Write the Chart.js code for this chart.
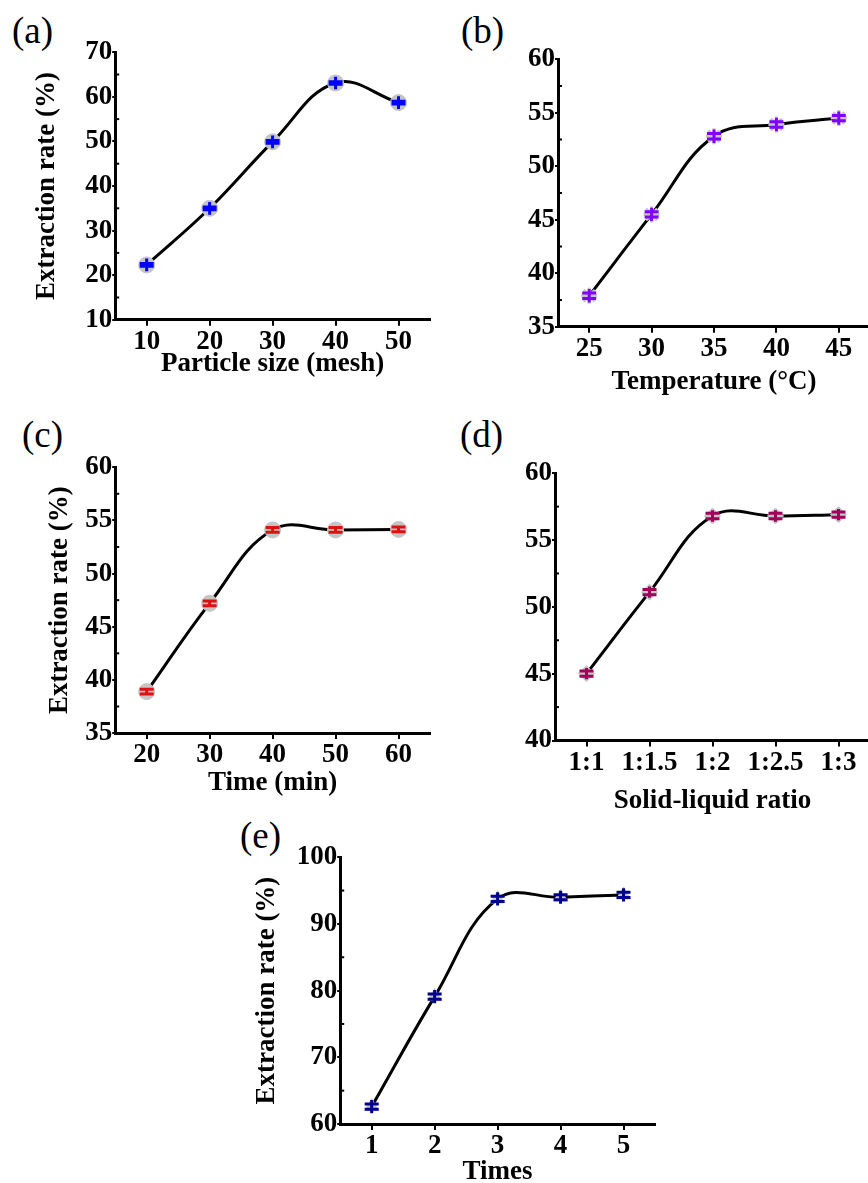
<!DOCTYPE html>
<html>
<head>
<meta charset="utf-8">
<script src="https://cdn.jsdelivr.net/npm/chart.js@4.4.1/dist/chart.umd.min.js"></script>
<style>
  html, body { margin: 0; padding: 0; background: #fff; }
  body { position: relative; width: 868px; height: 1183px; overflow: hidden; }
  canvas { position: absolute; }
  .tag { position: absolute; font: 37px 'Liberation Serif', 'Times New Roman', serif; line-height: 1; color: #000; }
</style>
</head>
<body>
<div class="tag" style="left:12px;top:12px">(a)</div>
<div class="tag" style="left:461px;top:12px">(b)</div>
<div class="tag" style="left:22px;top:416px">(c)</div>
<div class="tag" style="left:460px;top:416px">(d)</div>
<div class="tag" style="left:240px;top:817px">(e)</div>
<canvas id="chartA"></canvas>
<canvas id="chartB"></canvas>
<canvas id="chartC"></canvas>
<canvas id="chartD"></canvas>
<canvas id="chartE"></canvas>
<script>
'use strict'

// (a) particle size
const sizeLabels = ['10', '20', '30', '40', '50']
const sizeRates = [22.3, 35.0, 49.9, 63.1, 58.7]
const sizeErrors = [0.3, 0.3, 0.3, 0.3, 0.3]
const sizeTicks = [10, 20, 30, 40, 50, 60, 70]

// (b) temperature
const tempLabels = ['25', '30', '35', '40', '45']
const tempRates = [37.9, 45.5, 52.8, 53.9, 54.5]
const tempErrors = [0.25, 0.25, 0.25, 0.25, 0.25]
const tempTicks = [35, 40, 45, 50, 55, 60]

// (c) time
const timeLabels = ['20', '30', '40', '50', '60']
const timeRates = [38.9, 47.2, 54.1, 54.1, 54.15]
const timeErrors = [0.22, 0.22, 0.22, 0.22, 0.22]
const timeTicks = [35, 40, 45, 50, 55, 60]

// (d) solid-liquid ratio
const ratioLabels = ['1:1', '1:1.5', '1:2', '1:2.5', '1:3']
const ratioRates = [45.0, 51.1, 56.8, 56.8, 56.9]
const ratioErrors = [0.2, 0.2, 0.2, 0.2, 0.2]
const ratioTicks = [40, 45, 50, 55, 60]

// (e) extraction times
const timesLabels = ['1', '2', '3', '4', '5']
const timesRates = [62.6, 79.1, 93.75, 94.0, 94.35]
const timesErrors = [0.38, 0.38, 0.38, 0.38, 0.38]
const timesTicks = [60, 70, 80, 90, 100]

const serif = "'Liberation Serif', 'Times New Roman', serif"

// draws the coloured error bars over the grey symbols, plus the small inner minor ticks
const extrasPlugin = {
  id: 'extras',
  afterDatasetsDraw (chart, args, opts) {
    const ctx = chart.ctx
    const ys = chart.scales.y
    const ds = chart.data.datasets[0]
    const meta = chart.getDatasetMeta(0)
    ctx.save()
    ctx.strokeStyle = opts.color
    ctx.lineWidth = 3
    meta.data.forEach((pt, i) => {
      const v = ds.data[i]
      const up = ys.getPixelForValue(v + opts.errors[i])
      const dn = ys.getPixelForValue(v - opts.errors[i])
      ctx.beginPath()
      ctx.moveTo(pt.x, up - opts.stub)
      ctx.lineTo(pt.x, dn + opts.stub)
      ctx.moveTo(pt.x - 7, up)
      ctx.lineTo(pt.x + 7, up)
      ctx.moveTo(pt.x - 7, dn)
      ctx.lineTo(pt.x + 7, dn)
      ctx.stroke()
    })
    // minor ticks halfway between the labelled ones
    ctx.strokeStyle = '#000'
    ctx.lineWidth = 2
    const left = chart.chartArea.left
    for (let i = 0; i < opts.ticks.length - 1; i++) {
      const y = ys.getPixelForValue((opts.ticks[i] + opts.ticks[i + 1]) / 2)
      ctx.beginPath()
      ctx.moveTo(left, y)
      ctx.lineTo(left + 4, y)
      ctx.stroke()
    }
    ctx.restore()
  }
}

const makePanel = (id, box, d) => {
  const canvas = document.getElementById(id)
  const left = box.left - box.yw
  const top = box.top - 16
  canvas.width = Math.round(box.right + 6 - left)
  canvas.height = Math.round(box.bottom + box.xh - top)
  canvas.style.left = left + 'px'
  canvas.style.top = top + 'px'

  return new Chart(canvas, {
    type: 'line',
    data: {
      labels: d.labels,
      datasets: [{
        data: d.values,
        borderColor: '#000',
        borderWidth: 3,
        tension: 0.4,
        fill: false,
        pointStyle: d.symbol,
        pointRadius: 8,
        pointBackgroundColor: '#c4c4c4',
        pointBorderColor: '#c4c4c4',
        pointBorderWidth: d.symbol === 'star' ? 3 : 1
      }]
    },
    options: {
      responsive: false,
      animation: false,
      events: [],
      layout: { padding: { top: 16, right: 6, left: 0, bottom: 0 } },
      plugins: {
        legend: { display: false },
        tooltip: { enabled: false },
        extras: { color: d.color, errors: d.errors, ticks: d.ticks, stub: d.stub }
      },
      scales: {
        x: {
          type: 'category',
          offset: true,
          afterFit: s => { s.height = box.xh },
          grid: { drawOnChartArea: false, color: '#000', lineWidth: 2, tickLength: 6 },
          border: { color: '#000', width: 3 },
          ticks: { color: '#000', padding: 0, maxRotation: 0, font: { family: serif, size: 27, weight: 'bold' } },
          title: { display: true, text: d.xTitle, color: '#000', padding: 0, font: { family: serif, size: 27, weight: 'bold' } }
        },
        y: {
          type: 'linear',
          min: d.ticks[0],
          max: d.ticks[d.ticks.length - 1],
          afterBuildTicks: s => { s.ticks = d.ticks.map(v => ({ value: v })) },
          afterFit: s => { s.width = box.yw },
          grid: { drawOnChartArea: false, color: '#000', lineWidth: 2, tickLength: 3 },
          border: { color: '#000', width: 3 },
          ticks: { color: '#000', padding: 0, font: { family: serif, size: 27, weight: 'bold' } },
          title: { display: !!d.yTitle, text: d.yTitle, color: '#000', padding: 0, font: { family: serif, size: 27, weight: 'bold' } }
        }
      }
    },
    plugins: [extrasPlugin]
  })
}

const rateTitle = 'Extraction rate (%)'

makePanel('chartA', { left: 115, right: 433, top: 52, bottom: 320, yw: 84.2, xh: 60.2 }, {
  labels: sizeLabels, values: sizeRates, errors: sizeErrors, ticks: sizeTicks,
  xTitle: 'Particle size (mesh)', yTitle: rateTitle, symbol: 'circle', color: '#0000ff', stub: 5
})

makePanel('chartB', { left: 558, right: 875, top: 59, bottom: 327, yw: 70, xh: 71.2 }, {
  labels: tempLabels, values: tempRates, errors: tempErrors, ticks: tempTicks,
  xTitle: 'Temperature (°C)', yTitle: '', symbol: 'star', color: '#8000ff', stub: 4
})

makePanel('chartC', { left: 115, right: 433, top: 466.7, bottom: 733.3, yw: 71.2, xh: 65.9 }, {
  labels: timeLabels, values: timeRates, errors: timeErrors, ticks: timeTicks,
  xTitle: 'Time (min)', yTitle: rateTitle, symbol: 'circle', color: '#e01010', stub: 0
})

makePanel('chartD', { left: 555, right: 873, top: 473.3, bottom: 740.7, yw: 70, xh: 76.5 }, {
  labels: ratioLabels, values: ratioRates, errors: ratioErrors, ticks: ratioTicks,
  xTitle: 'Solid-liquid ratio', yTitle: '', symbol: 'rectRot', color: '#a0005a', stub: 3
})

makePanel('chartE', { left: 340, right: 658.3, top: 856.7, bottom: 1123.3, yw: 89.2, xh: 64 }, {
  labels: timesLabels, values: timesRates, errors: timesErrors, ticks: timesTicks,
  xTitle: 'Times', yTitle: rateTitle, symbol: 'triangle', color: '#000090', stub: 4
})
</script>
</body>
</html>
